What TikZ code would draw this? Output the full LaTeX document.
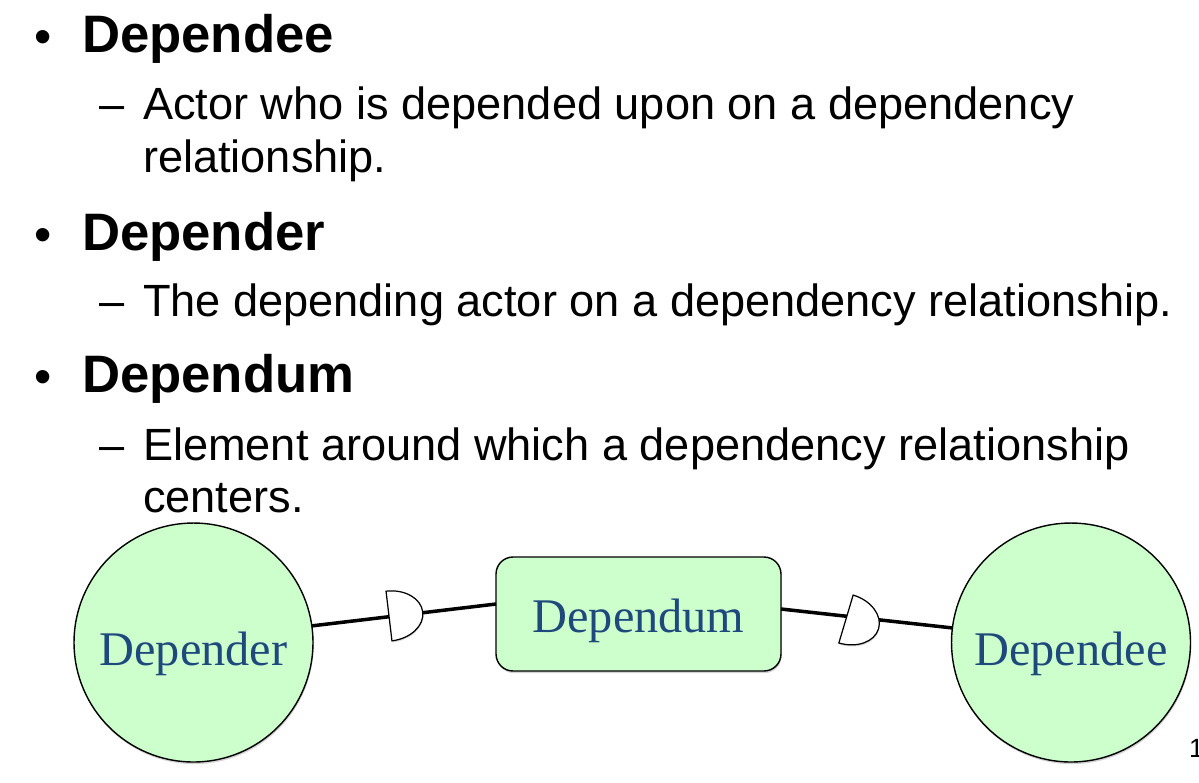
\documentclass[tikz,border=0pt]{standalone}
\usepackage{fontspec}
\setmainfont{Liberation Sans}
\newfontfamily\lblfont{Liberation Serif}
\usetikzlibrary{shadows}
\definecolor{actgreen}{HTML}{CCFFCC}
\definecolor{lblblue}{HTML}{1F497D}

\begin{document}
\begin{tikzpicture}  % ------ Dependee, Depender, Dependum -----------------------------
      [x={(0.02cm,0cm)},y={(0cm,-0.02cm)},
       every node/.style={inner sep=0pt, outer sep=0pt},
       bullet/.style={anchor=base west, font=\fontsize{28}{36}\selectfont},
       head/.style={anchor=base west, font=\fontsize{30}{36}\selectfont\bfseries},
       sub/.style={anchor=base west, font=\fontsize{25.7}{30}\selectfont},
       actor/.style={circle, draw, line width=0.8pt, fill=actgreen, minimum size=4.78cm,
         font=\lblfont\fontsize{27.5}{30}\selectfont, text=lblblue, text height=0.9cm, text depth=0pt,
         drop shadow={shadow xshift=0.4pt, shadow yshift=-1.2pt, opacity=0.35}},
       dumbox/.style={draw, rounded corners=0.34cm, line width=0.8pt, fill=actgreen,
         minimum width=5.7cm, minimum height=2.28cm,
         font=\lblfont\fontsize{27.5}{30}\selectfont, text=lblblue, text height=0.72cm, text depth=0pt,
         drop shadow={shadow xshift=0.4pt, shadow yshift=-1.2pt, opacity=0.35}},
       link/.style={line width=2pt},
       dmark/.style={draw, line width=0.7pt, fill=white,
         drop shadow={shadow xshift=0.3pt, shadow yshift=-0.9pt, opacity=0.3}}]

    \useasboundingbox (0,0) rectangle (1199,782);

    % the three terms
    \foreach \y/\w [count=\i] in {52/Dependee, 250/Depender, 392/Dependum} {
      \node[bullet] (b\i) at (34,\y+1) {•};
      \node[head] (h\i) at (82,\y) {\w};
    }

    \node[sub] (d1) at (99,119) {–};
    \node[sub] (t1a) at (143,119) {Actor who is depended upon on a dependency};
    \node[sub] (t1b) at (143,172) {relationship.};
    \node[sub] (d2) at (99,316) {–};
    \node[sub] (t2) at (143,316) {The depending actor on a dependency relationship.};
    \node[sub] (d3) at (99,460) {–};
    \node[sub] (t3a) at (143,460) {Element around which a dependency relationship};
    \node[sub] (t3b) at (143,512) {centers.};

    % the diagram
    \node[actor] (der) at (193.5,642.5) {Depender};
    \node[dumbox] (dum) at (638.5,614) {Dependum};
    \node[actor] (dee) at (1071,642.5) {Dependee};

    \coordinate (dL) at (389,616);
    \coordinate (dR) at (846,619);

    \draw[link] (der.8) -- ([yshift=0.2cm]dum.west);
    \draw[link] ([yshift=0.1cm]dum.east) -- (dee.173);
    \foreach \p/\a in {dL/6.8, dR/-16.6}
      \draw[dmark, shift={(\p)}, rotate=\a] (0cm,-0.5cm) -- (0cm,0.5cm)
        arc[start angle=90, end angle=-90, x radius=0.68cm, y radius=0.5cm] -- cycle;

    \node[anchor=base west, font=\fontsize{15}{18}\selectfont] (pg) at (1189,757) {1};

\end{tikzpicture}
\end{document}
